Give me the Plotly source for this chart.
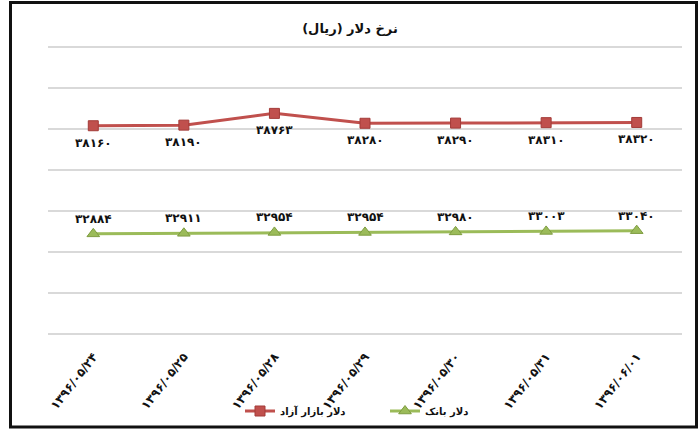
import plotly.graph_objects as go

dates = ["1396/05/24", "1396/05/25", "1396/05/28", "1396/05/29",
         "1396/05/30", "1396/05/31", "1396/06/01"]
free_market = [38160, 38190, 38763, 38280, 38290, 38310, 38320]
bank = [32884, 32911, 32954, 32954, 32980, 33003, 33040]

name_free = "دلار بازار آزاد"
name_bank = "دلار بانک"
title_text = "نرخ دلار (ریال)"

FA = str.maketrans("0123456789", "۰۱۲۳۴۵۶۷۸۹")


def fa(s):
    return str(s).translate(FA)


cats = [fa(d) for d in dates]
FONT = "DejaVu Sans"

fig = go.Figure()
fig.add_trace(go.Scatter(
    x=cats, y=free_market, name=name_free, mode="lines+markers",
    line=dict(color="#C0504D", width=3),
    marker=dict(symbol="square", size=10, color="#C0504D",
                line=dict(color="#A33B38", width=1)),
))
fig.add_trace(go.Scatter(
    x=cats, y=bank, name=name_bank, mode="lines+markers",
    line=dict(color="#9BBB59", width=3),
    marker=dict(symbol="triangle-up", size=11, color="#9BBB59",
                line=dict(color="#7E9C40", width=1)),
))

annotations = []
for c, v in zip(cats, free_market):
    annotations.append(dict(x=c, y=v, text="<b>" + fa(v) + "</b>", showarrow=False,
                            yshift=-17, font=dict(family=FONT, size=12, color="#111111")))
for c, v in zip(cats, bank):
    annotations.append(dict(x=c, y=v, text="<b>" + fa(v) + "</b>", showarrow=False,
                            yshift=15, font=dict(family=FONT, size=12, color="#111111")))

fig.update_layout(
    width=700, height=429,
    margin=dict(l=48, r=18, t=45, b=93),
    paper_bgcolor="white", plot_bgcolor="white",
    font=dict(family=FONT, color="#111111"),
    title=dict(text="<b>" + title_text + "</b>", x=0.5, xanchor="center",
               y=1 - 28 / 429, yanchor="middle", automargin=False,
               font=dict(family=FONT, size=13, color="#111111")),
    showlegend=True,
    legend=dict(orientation="h", xref="container", yref="container",
                x=240 / 700, xanchor="left", y=1 - 411 / 429,
                yanchor="middle", font=dict(family=FONT, size=10, weight="bold"),
                itemwidth=30, entrywidth=100, entrywidthmode="pixels",
                tracegroupgap=0, bgcolor="rgba(0,0,0,0)"),
    xaxis=dict(type="category", range=[-0.5, 6.5], showgrid=False, automargin=False,
               showline=False, ticks="outside", ticklen=8, tickcolor="rgba(0,0,0,0)",
               tickangle=-52,
               tickfont=dict(family=FONT, size=12, weight="bold", color="#111111")),
    yaxis=dict(range=[27900, 42100], tickvals=list(range(28000, 42001, 2000)),
               showgrid=True, automargin=False,
               gridcolor="#D9D9D9", gridwidth=1.5, showticklabels=False,
               zeroline=False, showline=False, ticks=""),
    annotations=annotations,
    shapes=[dict(type="rect", xref="paper", yref="paper",
                 x0=(10.5 - 48) / 634, x1=(696.5 - 48) / 634,
                 y0=(336 - 427) / 291, y1=(336 - 2.5) / 291,
                 line=dict(color="#111111", width=3), layer="below")],
)

fig.write_html("out.html", config={"displayModeBar": False},
               post_script="document.body.style.margin='0';document.body.style.overflow='hidden';")
